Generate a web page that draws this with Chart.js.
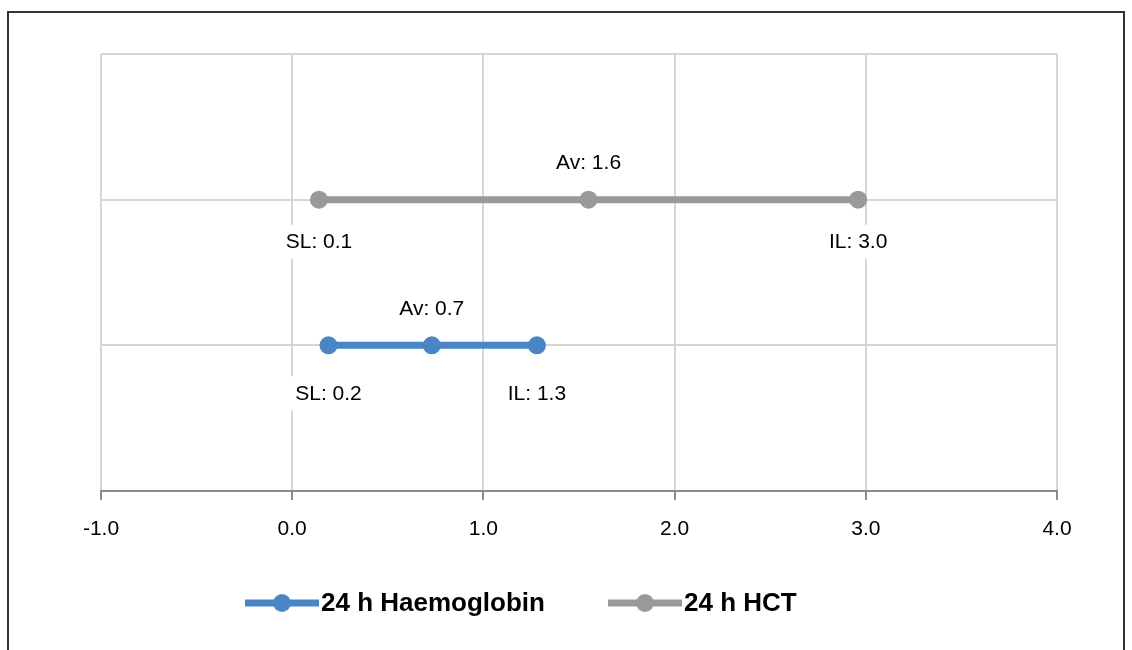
<!DOCTYPE html>
<html>
<head>
<meta charset="utf-8">
<script src="https://cdn.jsdelivr.net/npm/chart.js@4/dist/chart.umd.min.js"></script>
<style>
    body { margin: 0; background: #fff; }
    #wrap { position: relative; width: 1132px; height: 650px; }
    #frame {
        position: absolute; left: 7px; top: 11px; width: 1114px; height: 650px;
        border-left: 2px solid #333; border-top: 2px solid #333; border-right: 2px solid #333;
        pointer-events: none;
    }
</style>
</head>
<body>
<div id="wrap">
    <canvas id="chart"></canvas>
    <div id="frame"></div>
</div>
<script>
const seriesNames = ['24 h Haemoglobin', '24 h HCT'];
const seriesColors = ['#4a86c6', '#999999'];
const rowLevels = [1, 2];
const haemoglobinX = [0.19, 0.73, 1.28];
const hctX = [0.14, 1.55, 2.96];
const pointTags = ['SL', 'Av', 'IL'];
const xMin = -1, xMax = 4;

const ctx = document.getElementById('chart').getContext('2d');
ctx.canvas.width = 1132;
ctx.canvas.height = 650;

const toPoints = (xs, level) => xs.map(x => ({ x: x, y: level }));

// Av above the line, SL / IL below it
const labelPlugin = {
    id: 'rangeLabels',
    afterDatasetsDraw(chart) {
        const c = chart.ctx;
        const xs = chart.scales.x, ys = chart.scales.y;
        c.save();
        c.font = '21px "Liberation Sans", Arial, sans-serif';
        c.textAlign = 'center';
        c.textBaseline = 'middle';
        chart.data.datasets.forEach(ds => {
            ds.data.forEach((p, i) => {
                const px = xs.getPixelForValue(p.x);
                const py = ys.getPixelForValue(p.y);
                const text = pointTags[i] + ': ' + p.x.toFixed(1);
                const ty = pointTags[i] === 'Av' ? py - 37 : py + ds.belowGap;
                const w = c.measureText(text).width;
                c.fillStyle = '#fff';
                c.fillRect(px - w / 2 - 8, ty - 17, w + 16, 34);
                c.fillStyle = '#000';
                c.fillText(text, px, ty + 1);
            });
        });
        c.restore();
    }
};

const legendPlugin = {
    id: 'lineLegend',
    afterDraw(chart) {
        const c = chart.ctx;
        const starts = [245, 608];
        const y = 603;
        c.save();
        c.font = 'bold 26px "Liberation Sans", Arial, sans-serif';
        c.textBaseline = 'middle';
        seriesNames.forEach((name, i) => {
            const x0 = starts[i];
            c.strokeStyle = seriesColors[i];
            c.lineWidth = 7;
            c.beginPath();
            c.moveTo(x0, y);
            c.lineTo(x0 + 74, y);
            c.stroke();
            c.fillStyle = seriesColors[i];
            c.beginPath();
            c.arc(x0 + 37, y, 9, 0, Math.PI * 2);
            c.fill();
            c.fillStyle = '#000';
            c.fillText(name, x0 + 76, y + 1);
        });
        c.restore();
    }
};

const chart = new Chart(ctx, {
    type: 'line',
    data: {
        datasets: [
            {
                label: seriesNames[0],
                data: toPoints(haemoglobinX, rowLevels[0]),
                borderColor: seriesColors[0],
                backgroundColor: seriesColors[0],
                borderWidth: 7,
                pointRadius: 9,
                pointBorderWidth: 0,
                belowGap: 48
            },
            {
                label: seriesNames[1],
                data: toPoints(hctX, rowLevels[1]),
                borderColor: seriesColors[1],
                backgroundColor: seriesColors[1],
                borderWidth: 7,
                pointRadius: 9,
                pointBorderWidth: 0,
                belowGap: 42
            }
        ]
    },
    options: {
        responsive: false,
        animation: false,
        layout: { padding: { left: 101, right: 75, top: 54, bottom: 0 } },
        plugins: { legend: { display: false }, tooltip: { enabled: false } },
        scales: {
            x: {
                type: 'linear',
                min: xMin,
                max: xMax,
                ticks: {
                    stepSize: 1,
                    color: '#000',
                    padding: 17,
                    maxRotation: 0,
                    font: { family: '"Liberation Sans", Arial, sans-serif', size: 21 },
                    callback: v => v.toFixed(1)
                },
                grid: { color: '#d6d6d6', lineWidth: 2, tickLength: 9, tickColor: '#8c8c8c' },
                border: { color: '#8c8c8c', width: 2 },
                afterFit: s => { s.height = 159; }
            },
            y: {
                type: 'linear',
                min: 0,
                max: 3,
                ticks: { display: false, stepSize: 1 },
                grid: { color: '#d6d6d6', lineWidth: 2, drawTicks: false },
                border: { display: false },
                afterFit: s => { s.width = 0; }
            }
        }
    },
    plugins: [labelPlugin, legendPlugin]
});
</script>
</body>
</html>
